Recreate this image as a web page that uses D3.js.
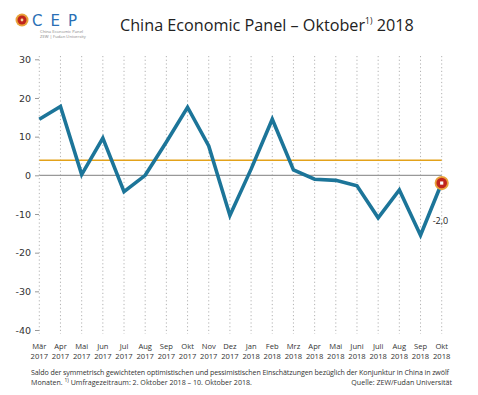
<!DOCTYPE html>
<html>
<head>
<meta charset="utf-8">
<script src="https://cdn.jsdelivr.net/npm/d3@7"></script>
<style>
  body { margin: 0; background: #fff; }
  svg { display: block; font-family: "Open Sans", "Noto Sans", sans-serif; }
</style>
</head>
<body>
<div id="chart"></div>
<script>
// China Economic Panel – Oktober 2018 (Saldo Konjunkturerwartungen)
const months = ['Mär', 'Apr', 'Mai', 'Jun', 'Jul', 'Aug', 'Sep', 'Okt', 'Nov', 'Dez',
  'Jan', 'Feb', 'Mrz', 'Apr', 'Mai', 'Juni', 'Juli', 'Aug', 'Sep', 'Okt'];
const years = ['2017', '2017', '2017', '2017', '2017', '2017', '2017', '2017', '2017', '2017',
  '2018', '2018', '2018', '2018', '2018', '2018', '2018', '2018', '2018', '2018'];
const values = [14.5, 17.8, 0.2, 9.6, -4.2, 0.0, 8.6, 17.6, 7.6, -10.4,
  1.6, 14.5, 1.4, -1.0, -1.3, -2.7, -11.0, -3.8, -15.5, -2.0];
const average = 3.9;
const yTicks = [30, 20, 10, 0, -10, -20, -30, -40];

const W = 478, H = 395;
const svg = d3.select('#chart').append('svg')
  .attr('width', W).attr('height', H);

// Header: logo + title
const logo = svg.append('g');
logo.append('circle').attr('cx', 22).attr('cy', 20).attr('r', 6.5).attr('fill', '#e8a23a');
logo.append('circle').attr('cx', 22).attr('cy', 20).attr('r', 4.5).attr('fill', '#c0241c');
logo.append('circle').attr('cx', 22).attr('cy', 20).attr('r', 1.4).attr('fill', '#f5d9a0');
logo.append('text').attr('x', 32).attr('y', 25.5)
  .attr('font-family', '"DejaVu Sans", sans-serif').attr('font-size', 15)
  .attr('letter-spacing', 8).attr('fill', '#2a6fb5').text('CEP');
logo.append('text').attr('x', 40).attr('y', 33).attr('font-size', 4.2).attr('fill', '#888')
  .text('China Economic Panel');
logo.append('text').attr('x', 40).attr('y', 38).attr('font-size', 4.2).attr('fill', '#888')
  .text('ZEW | Fudan University');

const title = svg.append('text').attr('x', 120).attr('y', 31)
  .attr('font-size', 16.2).attr('fill', '#222');
title.append('tspan').text('China Economic Panel – Oktober');
title.append('tspan').attr('font-size', 8.5).attr('dy', -7).text('1)');
title.append('tspan').attr('dy', 7).text(' 2018');

// Scales
const x = d3.scalePoint().domain(d3.range(months.length)).range([39.3, 441.7]);
const y = d3.scaleLinear().domain([-40, 30]).range([330, 59.3]);

// Vertical dotted gridlines
svg.append('g').selectAll('line').data(d3.range(months.length)).join('line')
  .attr('x1', d => x(d)).attr('x2', d => x(d))
  .attr('y1', 56).attr('y2', 334)
  .attr('stroke', '#aaa').attr('stroke-width', 0.9).attr('stroke-dasharray', '1.2,2.5');

// Y axis
const yAxis = svg.append('g').attr('transform', 'translate(39,0)')
  .call(d3.axisLeft(y).tickValues(yTicks).tickSize(4).tickPadding(4).tickFormat(d => String(d)));
yAxis.select('.domain').remove();
yAxis.selectAll('.tick line').attr('stroke', '#999');
yAxis.selectAll('.tick text').attr('font-size', 9.5).attr('fill', '#333')
  .attr('font-family', '"DejaVu Sans", sans-serif');

// X labels
const xl = svg.append('g').selectAll('g').data(d3.range(months.length)).join('g')
  .attr('transform', d => `translate(${x(d)},0)`);
xl.append('text').attr('y', 349).attr('text-anchor', 'middle')
  .attr('font-size', 7.6).attr('fill', '#333').text(d => months[d]);
xl.append('text').attr('y', 359).attr('text-anchor', 'middle')
  .attr('font-size', 7.6).attr('fill', '#333').text(d => years[d]);

// Zero line and average
svg.append('line').attr('x1', x(0)).attr('x2', x(months.length - 1))
  .attr('y1', y(0)).attr('y2', y(0)).attr('stroke', '#999').attr('stroke-width', 1.2);
svg.append('line').attr('x1', x(0)).attr('x2', x(months.length - 1))
  .attr('y1', y(average)).attr('y2', y(average)).attr('stroke', '#e3a21a').attr('stroke-width', 1.4);

// Series line
const line = d3.line().x((d, i) => x(i)).y(d => y(d));
svg.append('path').datum(values).attr('d', line)
  .attr('fill', 'none').attr('stroke', '#1c7599').attr('stroke-width', 3.6)
  .attr('stroke-linejoin', 'miter');

// Last value marker
const last = values.length - 1;
svg.append('circle').attr('cx', x(last)).attr('cy', y(values[last])).attr('r', 6.2)
  .attr('fill', '#c0241c').attr('stroke', '#e8a23a').attr('stroke-width', 1.8);
svg.append('rect').attr('x', x(last) - 1.6).attr('y', y(values[last]) - 1.6)
  .attr('width', 3.2).attr('height', 3.2).attr('fill', '#fff');
svg.append('text').attr('x', x(last) - 9).attr('y', y(values[last]) + 41)
  .attr('font-size', 9).attr('fill', '#222')
  .text(values[last].toFixed(1).replace('.', ','));

// Footnote
const foot = svg.append('g').attr('font-size', 7.1).attr('fill', '#333');
foot.append('text').attr('x', 31).attr('y', 375)
  .attr('textLength', 418).attr('lengthAdjust', 'spacing')
  .text('Saldo der symmetrisch gewichteten optimistischen und pessimistischen Einschätzungen bezüglich der Konjunktur in China in zwölf');
const f2 = foot.append('text').attr('x', 31).attr('y', 384.5);
f2.append('tspan').text('Monaten. ');
f2.append('tspan').attr('font-size', 5).attr('dy', -2.5).text('1)');
f2.append('tspan').attr('dy', 2.5).text(' Umfragezeitraum: 2. Oktober 2018 – 10. Oktober 2018.');
foot.append('text').attr('x', 452).attr('y', 384.5).attr('text-anchor', 'end')
  .text('Quelle: ZEW/Fudan Universität');
</script>
</body>
</html>
